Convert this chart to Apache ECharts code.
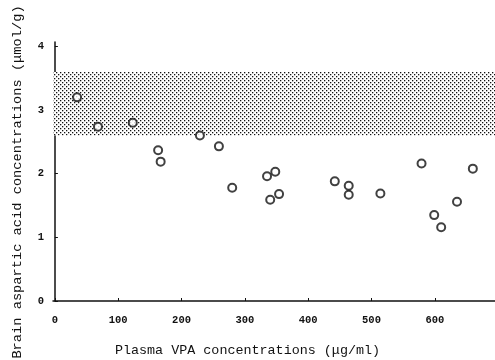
<!DOCTYPE html>
<html>
<head>
<meta charset="utf-8">
<script src="https://cdn.jsdelivr.net/npm/echarts@6/dist/echarts.min.js"></script>
<style>html,body{margin:0;padding:0;background:#fff}#c{width:495px;height:360px}</style>
</head>
<body>
<div id="c"></div>
<script>
var vpa = [35, 68, 123, 163, 167, 229, 259, 280, 335, 348, 340, 354, 442, 464, 464, 514, 579, 599, 610, 635, 660];
var asp = [3.20, 2.74, 2.80, 2.37, 2.19, 2.60, 2.43, 1.78, 1.96, 2.03, 1.59, 1.68, 1.88, 1.81, 1.67, 1.69, 2.16, 1.35, 1.16, 1.56, 2.08];
var xTicks = [0, 100, 200, 300, 400, 500, 600];
var yTicks = [0, 1, 2, 3, 4];
var bandLow = 2.6, bandHigh = 3.6;
var xMin = -3, xMax = 695;

var pts = vpa.map(function (v, i) { return [v, asp[i]]; });

var tile = document.createElement('canvas');
tile.width = 4; tile.height = 4;
var g = tile.getContext('2d');
g.fillStyle = '#fff'; g.fillRect(0, 0, 4, 4);
g.fillStyle = '#111';
g.fillRect(0, 0, 1.3, 1.3);
g.fillRect(2, 2, 1.3, 1.3);

var font = '"Liberation Mono", "DejaVu Sans Mono", monospace';
var chart = echarts.init(document.getElementById('c'));
chart.setOption({
  animation: false,
  backgroundColor: '#fff',
  grid: { left: 53, right: 0, top: 42, bottom: 59, containLabel: false, outerBoundsMode: 'none' },
  xAxis: {
    type: 'value', min: xMin, max: xMax,
    name: 'Plasma VPA concentrations (\u03bcg/ml)',
    nameLocation: 'middle', nameGap: 43,
    nameTextStyle: { fontFamily: font, fontSize: 13.4, color: '#111', padding: [0, 0, 0, -53] },
    splitLine: { show: false },
    axisLine: { lineStyle: { color: '#111', width: 1.5 } },
    axisTick: { inside: true, length: 3, customValues: xTicks, lineStyle: { color: '#111' } },
    axisLabel: { customValues: xTicks, fontFamily: font, fontSize: 10.5, fontWeight: 'bold', color: '#111', margin: 14 }
  },
  yAxis: {
    type: 'value', min: 0, max: 4.07,
    name: 'Brain aspartic acid concentrations (\u03bcmol/g)',
    nameLocation: 'middle', nameGap: 29, nameRotate: 90,
    nameTextStyle: { fontFamily: font, fontSize: 13.7, color: '#111', padding: [0, 0, 0, -21] },
    splitLine: { show: false },
    axisLine: { show: true, lineStyle: { color: '#111', width: 1.5 } },
    axisTick: { show: true, inside: true, length: 3, customValues: yTicks, lineStyle: { color: '#111' } },
    axisLabel: { customValues: yTicks, fontFamily: font, fontSize: 10.5, fontWeight: 'bold', color: '#111', margin: 9 }
  },
  series: [{
    type: 'scatter',
    data: pts,
    symbol: 'emptyCircle',
    symbolSize: 8,
    itemStyle: { color: '#111', borderWidth: 1.8 },
    markArea: {
      silent: true,
      itemStyle: { color: { image: tile, repeat: 'repeat' } },
      data: [[{ xAxis: xMin, yAxis: bandLow }, { xAxis: xMax, yAxis: bandHigh }]]
    },
    z: 3
  }]
});
</script>
</body>
</html>
